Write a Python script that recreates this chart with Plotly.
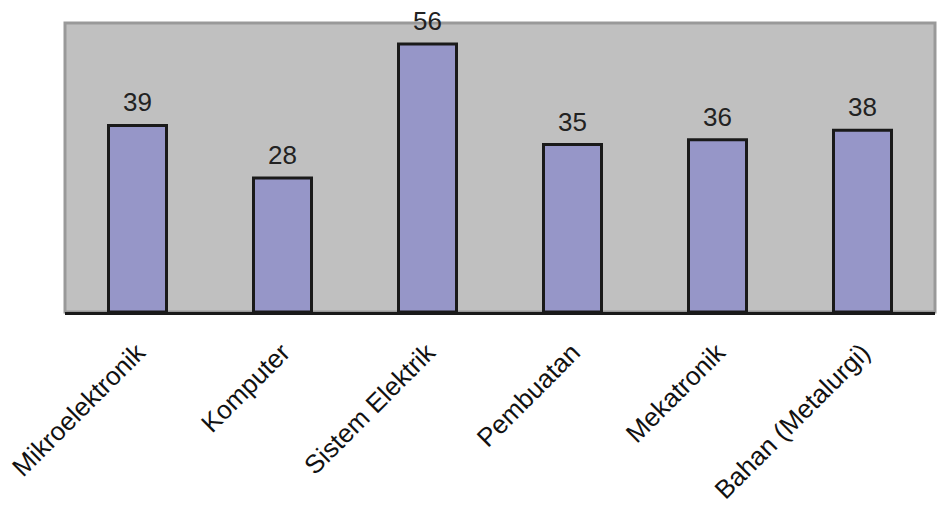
import plotly.graph_objects as go

categories = ["Mikroelektronik", "Komputer", "Sistem Elektrik", "Pembuatan", "Mekatronik", "Bahan (Metalurgi)"]
values = [39, 28, 56, 35, 36, 38]

FONT = "Liberation Sans, Arial"

fig = go.Figure()
fig.add_trace(go.Bar(
    x=categories, y=values,
    width=0.4,
    marker=dict(color="#9696C8", line=dict(color="#1a1a1a", width=3)),
    cliponaxis=False,
))

for c, v in zip(categories, values):
    fig.add_annotation(x=c, y=v, text=str(v), showarrow=False, yanchor="bottom",
                       yshift=6, font=dict(family=FONT, size=26, color="#222222"))

fig.add_shape(type="rect", xref="paper", yref="paper", x0=0, x1=1, y0=0, y1=1,
              line=dict(color="#999999", width=3), fillcolor="rgba(0,0,0,0)", layer="below")

fig.update_layout(
    width=940, height=505,
    margin=dict(l=65, r=5, t=23, b=193),
    paper_bgcolor="white",
    plot_bgcolor="#C0C0C0",
    showlegend=False,
    xaxis=dict(
        tickangle=-45,
        tickfont=dict(family=FONT, size=26, color="#111111"),
        showline=True, linecolor="#1a1a1a", linewidth=3,
        ticks="", showgrid=False, automargin=False,
        ticklabelstandoff=12,
    ),
    yaxis=dict(
        range=[0, 60.4], visible=False, showgrid=False, zeroline=False,
    ),
)

fig.write_html("out.html",
               config={"displayModeBar": False},
               post_script="document.body.style.margin='0';document.body.style.overflow='hidden';")
